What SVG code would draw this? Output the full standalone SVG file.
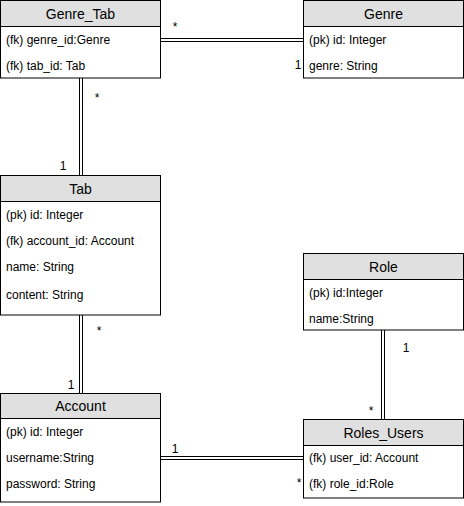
<svg xmlns="http://www.w3.org/2000/svg" width="464" height="506" viewBox="0 0 464 506">
  <style>
    .box { fill: #ffffff; stroke: #000000; stroke-width: 1; }
    .head { fill: #e0e0e0; stroke: #000000; stroke-width: 1; }
    .title { font-family: "Liberation Sans", Arial, sans-serif; font-size: 14px; fill: #000000; text-anchor: middle; dominant-baseline: central; }
    .attr { font-family: "Liberation Sans", Arial, sans-serif; font-size: 12px; fill: #000000; dominant-baseline: central; }
    .mult { font-family: "Liberation Sans", Arial, sans-serif; font-size: 12px; fill: #000000; text-anchor: middle; dominant-baseline: central; }
    .line { stroke: #000000; stroke-width: 1; fill: none; }
  </style>

  <!-- connectors: double lines with multiplicities -->
  <g id="connectors">
    <!-- Genre_Tab to Genre -->
    <line class="line" x1="160.5" y1="38.5" x2="303.5" y2="38.5"/>
    <line class="line" x1="160.5" y1="41.5" x2="303.5" y2="41.5"/>
    <text class="mult" x="175" y="27">*</text>
    <text class="mult" x="298" y="65">1</text>
    <!-- Genre_Tab to Tab -->
    <line class="line" x1="79.5" y1="78" x2="79.5" y2="175"/>
    <line class="line" x1="82.5" y1="78" x2="82.5" y2="175"/>
    <text class="mult" x="97" y="98">*</text>
    <text class="mult" x="63" y="166">1</text>
    <!-- Tab to Account -->
    <line class="line" x1="79.5" y1="315" x2="79.5" y2="393"/>
    <line class="line" x1="82.5" y1="315" x2="82.5" y2="393"/>
    <text class="mult" x="99" y="331">*</text>
    <text class="mult" x="71" y="385">1</text>
    <!-- Role to Roles_Users -->
    <line class="line" x1="381.5" y1="330" x2="381.5" y2="419"/>
    <line class="line" x1="384.5" y1="330" x2="384.5" y2="419"/>
    <text class="mult" x="406" y="348">1</text>
    <text class="mult" x="371" y="411">*</text>
    <!-- Account to Roles_Users -->
    <line class="line" x1="160.5" y1="456.5" x2="303.5" y2="456.5"/>
    <line class="line" x1="160.5" y1="459.5" x2="303.5" y2="459.5"/>
    <text class="mult" x="175" y="449">1</text>
    <text class="mult" x="299" y="483">*</text>
  </g>

  <g id="genre_tab">
    <rect class="box" x="0.5" y="0.5" width="160" height="77.5"/>
    <rect class="head" x="0.5" y="0.5" width="160" height="26"/>
    <text class="title" x="80.5" y="14">Genre_Tab</text>
    <text class="attr" x="6" y="40">(fk) genre_id:Genre</text>
    <text class="attr" x="6" y="66">(fk) tab_id: Tab</text>
  </g>

  <g id="genre">
    <rect class="box" x="303.5" y="0.5" width="160" height="77.5"/>
    <rect class="head" x="303.5" y="0.5" width="160" height="26"/>
    <text class="title" x="383.5" y="14">Genre</text>
    <text class="attr" x="309" y="40">(pk) id: Integer</text>
    <text class="attr" x="309" y="66">genre: String</text>
  </g>

  <g id="tab">
    <rect class="box" x="0.5" y="175.5" width="160" height="139.5"/>
    <rect class="head" x="0.5" y="175.5" width="160" height="26"/>
    <text class="title" x="80.5" y="189">Tab</text>
    <text class="attr" x="6" y="215">(pk) id: Integer</text>
    <text class="attr" x="6" y="241">(fk) account_id: Account</text>
    <text class="attr" x="6" y="267">name: String</text>
    <text class="attr" x="6" y="295">content: String</text>
  </g>

  <g id="role">
    <rect class="box" x="303.5" y="253.5" width="160" height="76.5"/>
    <rect class="head" x="303.5" y="253.5" width="160" height="26"/>
    <text class="title" x="383.5" y="267">Role</text>
    <text class="attr" x="309" y="293">(pk) id:Integer</text>
    <text class="attr" x="309" y="319">name:String</text>
  </g>

  <g id="account">
    <rect class="box" x="0.5" y="393.5" width="160" height="108.5"/>
    <rect class="head" x="0.5" y="393.5" width="160" height="25"/>
    <text class="title" x="80.5" y="406">Account</text>
    <text class="attr" x="6" y="432">(pk) id: Integer</text>
    <text class="attr" x="6" y="458">username:String</text>
    <text class="attr" x="6" y="484">password: String</text>
  </g>

  <g id="roles_users">
    <rect class="box" x="303.5" y="419.5" width="160" height="78.5"/>
    <rect class="head" x="303.5" y="419.5" width="160" height="26"/>
    <text class="title" x="383.5" y="433">Roles_Users</text>
    <text class="attr" x="309" y="458">(fk) user_id: Account</text>
    <text class="attr" x="309" y="484">(fk) role_id:Role</text>
  </g>
</svg>
